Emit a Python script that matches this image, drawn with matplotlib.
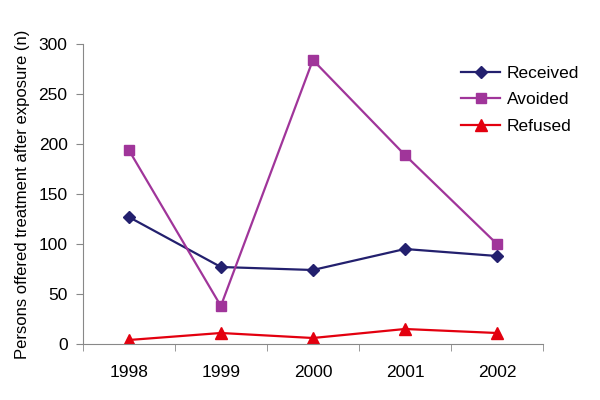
import numpy as np
import matplotlib.pyplot as plt

years = ["1998", "1999", "2000", "2001", "2002"]
received = [127, 77, 74, 95, 88]
avoided = [194, 38, 284, 189, 100]
refused = [4, 11, 6, 15, 11]

plt.rcParams["font.family"] = ["Liberation Sans", "DejaVu Sans"]

fig = plt.figure(figsize=(6, 4), dpi=100)
ax = fig.add_axes([0.138, 0.14, 0.767, 0.75])

x = np.arange(len(years))
ax.plot(x, received, color="#23206e", marker="D", markersize=6, linewidth=1.6, label="Received")
ax.plot(x, avoided, color="#a0359a", marker="s", markersize=7, linewidth=1.6, label="Avoided")
ax.plot(x, refused, color="#e3000f", marker="^", markersize=8, linewidth=1.6, label="Refused")

ax.set_xlim(-0.5, 4.5)
ax.set_ylim(0, 300)
ax.set_yticks(range(0, 301, 50))
ax.set_xticks(x)
ax.set_xticklabels(years)
ax.set_xticks(np.arange(-0.5, 4.6, 1), minor=True)
ax.tick_params(axis="x", which="major", length=0, pad=15, labelsize=12.5)
ax.tick_params(axis="x", which="minor", length=5, color="#888888", direction="out")
ax.tick_params(axis="y", length=5, color="#888888", direction="out", labelsize=12.5, pad=6)

for s in ["top", "right"]:
    ax.spines[s].set_visible(False)
for s in ["left", "bottom"]:
    ax.spines[s].set_color("#888888")

ax.set_ylabel("Persons offered treatment after exposure (n)", fontsize=12, labelpad=6)

ax.legend(loc="upper right", bbox_to_anchor=(1.112, 0.98), frameon=False, fontsize=12.5,
          handlelength=2.2, handletextpad=0.4, labelspacing=0.65)

fig.savefig("out.png", dpi=100)
